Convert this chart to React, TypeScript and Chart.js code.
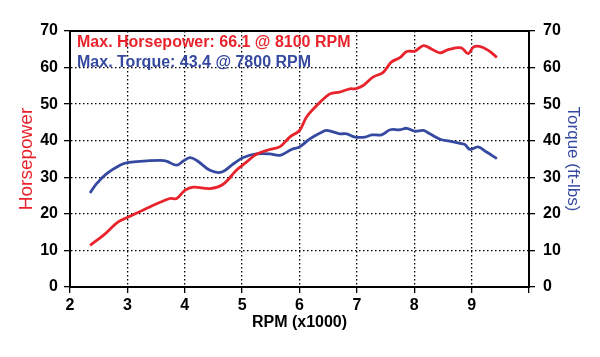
import React, { useEffect, useRef } from "react";
import { Chart, registerables } from "chart.js";

Chart.register(...registerables);

const hpRpm = [2.35, 2.58, 2.84, 3.0, 3.39, 3.74, 3.86, 4.0, 4.15, 4.44, 4.67, 4.9, 5.08, 5.25, 5.48, 5.66, 5.83, 6.0, 6.12, 6.3, 6.53, 6.7, 6.88, 6.97, 7.11, 7.28, 7.46, 7.6, 7.75, 7.87, 8.01, 8.16, 8.3, 8.45, 8.59, 8.82, 8.94, 9.03, 9.14, 9.29, 9.44];
const hpValues = [11.4, 14.1, 17.8, 19.0, 21.9, 24.2, 24.2, 26.4, 27.3, 26.9, 28.1, 31.9, 34.2, 36.3, 37.6, 38.4, 41.0, 42.8, 46.4, 49.6, 52.8, 53.3, 54.2, 54.2, 55.1, 57.4, 58.7, 61.5, 62.7, 64.4, 64.5, 66.0, 65.1, 64.0, 64.9, 65.4, 63.8, 65.6, 65.8, 64.7, 62.8];

const tqRpm = [2.35, 2.46, 2.64, 2.87, 3.0, 3.16, 3.57, 3.68, 3.86, 3.97, 4.09, 4.21, 4.44, 4.64, 4.85, 5.02, 5.25, 5.48, 5.66, 5.86, 6.0, 6.18, 6.36, 6.47, 6.7, 6.82, 6.97, 7.14, 7.26, 7.43, 7.58, 7.75, 7.87, 8.01, 8.16, 8.27, 8.45, 8.62, 8.8, 8.88, 8.97, 9.11, 9.26, 9.44];
const tqValues = [25.7, 28.2, 31.0, 33.3, 34.0, 34.3, 34.6, 34.4, 33.3, 34.4, 35.4, 34.6, 31.9, 31.4, 33.7, 35.4, 36.4, 36.4, 36.0, 37.6, 38.3, 40.5, 42.1, 42.8, 41.9, 41.9, 41.0, 41.0, 41.6, 41.6, 43.0, 43.0, 43.4, 42.6, 42.8, 41.9, 40.4, 39.9, 39.3, 39.0, 37.6, 38.3, 36.9, 35.1];

const legendLines = ["Max. Horsepower: 66.1 @ 8100 RPM", "Max. Torque: 43.4 @ 7800 RPM"];
const xTitle = "RPM (x1000)";
const yLeftTitle = "Horsepower";
const yRightTitle = "Torque (ft-lbs)";

const RED = "#e8232b";
const BLUE = "#3549a0";
const FONT = "'Liberation Sans', Arial, Helvetica, sans-serif";

const framePlugin = {
  id: "frameAndLegend",
  afterDraw(chart: any) {
    const { ctx, chartArea } = chart;
    ctx.save();
    ctx.strokeStyle = "#000";
    ctx.lineWidth = 2;
    ctx.setLineDash([]);
    ctx.strokeRect(chartArea.left, chartArea.top, chartArea.right - chartArea.left, chartArea.bottom - chartArea.top);
    ctx.font = `bold 16px ${FONT}`;
    ctx.textBaseline = "alphabetic";
    ctx.textAlign = "left";
    ctx.fillStyle = RED;
    ctx.fillText(legendLines[0], chartArea.left + 7, chartArea.top + 16);
    ctx.fillStyle = BLUE;
    ctx.fillText(legendLines[1], chartArea.left + 7, chartArea.top + 36);
    ctx.restore();
  },
};

export default function App() {
  const ref = useRef<HTMLCanvasElement>(null);
  useEffect(() => {
    document.body.style.margin = "0";
    const canvas = ref.current!;
    const tickFont = { family: FONT, size: 16, weight: "bold" as const };
    const chart = new Chart(canvas, {
      type: "line",
      data: {
        datasets: [
          {
            label: "Horsepower",
            data: hpRpm.map((x, i) => ({ x, y: hpValues[i] })),
            borderColor: RED,
            backgroundColor: RED,
            borderWidth: 2.8,
            pointRadius: 0,
            tension: 0.35,
            yAxisID: "y",
          },
          {
            label: "Torque",
            data: tqRpm.map((x, i) => ({ x, y: tqValues[i] })),
            borderColor: BLUE,
            backgroundColor: BLUE,
            borderWidth: 2.8,
            pointRadius: 0,
            tension: 0.35,
            yAxisID: "y2",
          },
        ],
      },
      options: {
        responsive: false,
        animation: false,
        layout: { padding: { top: 31, left: 0, right: 0, bottom: 0 } },
        plugins: { legend: { display: false }, tooltip: { enabled: false } },
        scales: {
          x: {
            type: "linear",
            min: 2,
            max: 10,
            afterFit: (s: any) => { s.height = 70; },
            ticks: {
              stepSize: 1,
              color: "#000",
              font: tickFont,
              padding: 3,
              maxRotation: 0,
              callback: (v: any) => (v === 10 ? "" : String(v)),
            },
            grid: { color: "#000", lineWidth: 1.3, tickLength: 6, tickColor: "#000", tickWidth: 1.3 },
            border: { display: true, color: "#000", width: 2, dash: [1.5, 2.5] },
            title: {
              display: true,
              text: xTitle,
              color: "#000",
              font: { family: FONT, size: 16, weight: "bold" },
              padding: { top: 0, bottom: 25 },
            },
          },
          y: {
            type: "linear",
            position: "left",
            min: 0,
            max: 70,
            afterFit: (s: any) => { s.width = 70; },
            ticks: { stepSize: 10, color: "#000", font: tickFont, padding: 6 },
            grid: { color: "#000", lineWidth: 1.3, tickLength: 6, tickColor: "#000", tickWidth: 1.3 },
            border: { display: true, color: "#000", width: 2, dash: [1.5, 2.5] },
            title: {
              display: true,
              text: yLeftTitle,
              color: RED,
              font: { family: FONT, size: 19, weight: "normal" },
              padding: { top: 15, bottom: 0 },
            },
          },
          y2: {
            type: "linear",
            position: "right",
            min: 0,
            max: 70,
            afterFit: (s: any) => { s.width = 71; },
            ticks: { stepSize: 10, color: "#000", font: tickFont, padding: 8 },
            grid: { color: "#000", lineWidth: 1.3, tickLength: 6, tickColor: "#000", tickWidth: 1.3, drawOnChartArea: false },
            border: { display: true, color: "#000", width: 2 },
            title: {
              display: true,
              text: yRightTitle,
              color: BLUE,
              font: { family: FONT, size: 17, weight: "normal" },
              padding: { top: 17, bottom: 0 },
            },
          },
        },
      },
      plugins: [framePlugin],
    });
    return () => chart.destroy();
  }, []);
  return (
    <div style={{ position: "absolute", left: 0, top: 0, width: 600, height: 357, background: "#fff" }}>
      <canvas ref={ref} width={600} height={357} style={{ width: 600, height: 357 }} />
    </div>
  );
}
